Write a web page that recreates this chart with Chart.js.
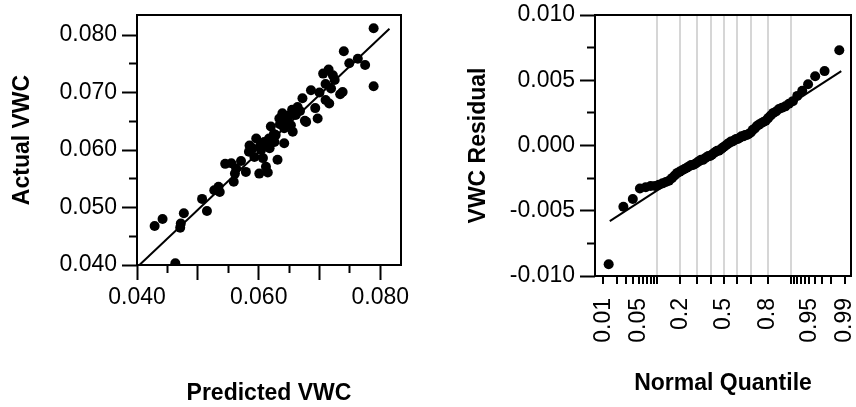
<!DOCTYPE html>
<html>
<head>
<meta charset="utf-8">
<script src="https://cdn.jsdelivr.net/npm/chart.js@4"></script>
<style>
  body { margin: 0; background: #fff; }
  #left { position: absolute; left: 0; top: 0; }
  #right { position: absolute; left: 430px; top: 0; }
</style>
</head>
<body>
<canvas id="left" width="430" height="407"></canvas>
<canvas id="right" width="426" height="407"></canvas>
<script>
// actual by predicted
const predicted = [0.0429, 0.0442, 0.0463, 0.0471, 0.0472, 0.0477, 0.0507, 0.0515, 0.0527, 0.0534,
  0.0536, 0.0555, 0.0559, 0.0561, 0.0563, 0.0571, 0.0579, 0.0584, 0.0585, 0.0590,
  0.0593, 0.0596, 0.0601, 0.0603, 0.0604, 0.0607, 0.0609, 0.0612, 0.0612, 0.0615,
  0.0617, 0.0618, 0.0620, 0.0625, 0.0626, 0.0628, 0.0631, 0.0634, 0.0635, 0.0639,
  0.0642, 0.0642, 0.0645, 0.0648, 0.0650, 0.0653, 0.0655, 0.0656, 0.0661, 0.0664,
  0.0668, 0.0672, 0.0676, 0.0678, 0.0686, 0.0693, 0.0697, 0.0700, 0.0706, 0.0710,
  0.0710, 0.0715, 0.0716, 0.0719, 0.0722, 0.0725, 0.0734, 0.0738, 0.0740, 0.0749,
  0.0763, 0.0775, 0.0789, 0.0789, 0.0545];
const actual = [0.0468, 0.0480, 0.0403, 0.0465, 0.0472, 0.0490, 0.0515, 0.0494, 0.0530, 0.0536,
  0.0527, 0.0577, 0.0545, 0.0559, 0.0568, 0.0581, 0.0562, 0.0597, 0.0608, 0.0603,
  0.0588, 0.0620, 0.0559, 0.0608, 0.0600, 0.0586, 0.0614, 0.0571, 0.0612, 0.0561,
  0.0620, 0.0603, 0.0641, 0.0628, 0.0614, 0.0626, 0.0583, 0.0655, 0.0645, 0.0664,
  0.0612, 0.0638, 0.0652, 0.0649, 0.0660, 0.0643, 0.0670, 0.0632, 0.0661, 0.0675,
  0.0668, 0.0690, 0.0651, 0.0649, 0.0704, 0.0673, 0.0655, 0.0700, 0.0733, 0.0687,
  0.0715, 0.0740, 0.0681, 0.0707, 0.0730, 0.0722, 0.0697, 0.0701, 0.0772, 0.0751,
  0.0759, 0.0748, 0.0812, 0.0711, 0.0576];
const fitPredicted = [0.0404, 0.0815];
const fitActual = [0.0400, 0.0811];
const vwcTicks = [0.040, 0.045, 0.050, 0.055, 0.060, 0.065, 0.070, 0.075, 0.080];

// residual normal quantile plot (sorted residuals)
const residuals = [-0.0091, -0.0047, -0.0041, -0.0033, -0.0032, -0.0031, -0.0031, -0.0030, -0.0029, -0.0028,
  -0.0027, -0.0025, -0.0023, -0.0021, -0.0020, -0.0019, -0.0018, -0.0017, -0.0016, -0.0015,
  -0.0015, -0.0014, -0.0013, -0.0012, -0.0011, -0.0011, -0.0010, -0.0009, -0.0008, -0.0008,
  -0.0007, -0.0006, -0.0005, -0.0004, -0.0004, -0.0003, -0.0002, -0.0001, 0.0000, 0.0001,
  0.0002, 0.0003, 0.0003, 0.0004, 0.0005, 0.0005, 0.0006, 0.0007, 0.0007, 0.0008,
  0.0008, 0.0009, 0.0010, 0.0012, 0.0013, 0.0015, 0.0016, 0.0017, 0.0018, 0.0019,
  0.0021, 0.0023, 0.0025, 0.0026, 0.0028, 0.0029, 0.0030, 0.0032, 0.0034, 0.0038,
  0.0042, 0.0047, 0.0053, 0.0057, 0.0073];
const refQuantile = [-2.20, 2.26];
const refResidual = [-0.0058, 0.0057];
const residTicks = [-0.010, -0.0075, -0.005, -0.0025, 0, 0.0025, 0.005, 0.0075, 0.010];
const probTicks = [0.01, 0.02, 0.03, 0.04, 0.05, 0.06, 0.07, 0.08, 0.09,
  0.1, 0.2, 0.3, 0.4, 0.5, 0.6, 0.7, 0.8, 0.9,
  0.91, 0.92, 0.93, 0.94, 0.95, 0.96, 0.97, 0.98, 0.99];
const probLabels = [0.01, 0.05, 0.2, 0.5, 0.8, 0.95, 0.99];
const probGrid = [0.1, 0.2, 0.3, 0.4, 0.5, 0.6, 0.7, 0.8, 0.9];

// inverse normal cdf (Acklam)
function qnorm(p) {
  const a = [-39.69683028665376, 220.9460984245205, -275.9285104469687, 138.3577518672690, -30.66479806614716, 2.506628277459239];
  const b = [-54.47609879822406, 161.5858368580409, -155.6989798598866, 66.80131188771972, -13.28068155288572];
  const c = [-0.007784894002430293, -0.3223964580411365, -2.400758277161838, -2.549671010229583, 4.374664141464968, 2.938163982698783];
  const d = [0.007784695709041462, 0.3224671290700398, 2.445134137142996, 3.754408661907416];
  const tail = q => (((((c[0]*q+c[1])*q+c[2])*q+c[3])*q+c[4])*q+c[5]) / ((((d[0]*q+d[1])*q+d[2])*q+d[3])*q+1);
  if (p < 0.02425) return tail(Math.sqrt(-2 * Math.log(p)));
  if (p > 1 - 0.02425) return -tail(Math.sqrt(-2 * Math.log(1 - p)));
  const q = p - 0.5, r = q * q;
  return (((((a[0]*r+a[1])*r+a[2])*r+a[3])*r+a[4])*r+a[5])*q / (((((b[0]*r+b[1])*r+b[2])*r+b[3])*r+b[4])*r+1);
}

const FONT = "'Liberation Sans', Arial, sans-serif";
const tickFont = { family: FONT, size: 23 };
const titleFont = { family: FONT, size: 23, weight: 'bold' };

const frame = {
  id: 'frame',
  afterDraw(chart) {
    const a = chart.chartArea, ctx = chart.ctx;
    ctx.save();
    ctx.strokeStyle = '#000';
    ctx.lineWidth = 2;
    ctx.strokeRect(a.left, a.top, a.right - a.left, a.bottom - a.top);
    ctx.restore();
  }
};

function fixSize(w, h) {
  return function(s) {
    if (w) s.width = w;
    if (h) s.height = h;
    s.paddingLeft = s.paddingRight = s.paddingTop = s.paddingBottom = 0;
  };
}

const isMult = (v, step) => Math.abs(v / step - Math.round(v / step)) < 1e-6;
// minor ticks: short (8 of 15 px), kept against the axis line
const minorX = [8, 50];
const minorY = [0, 7, 8, 50];

// left chart
new Chart(document.getElementById('left'), {
  type: 'scatter',
  data: {
    datasets: [{
      data: predicted.map((p, i) => ({ x: p, y: actual[i] })),
      backgroundColor: '#000',
      borderWidth: 0,
      pointRadius: 5,
      pointHoverRadius: 5
    }, {
      type: 'line',
      data: fitPredicted.map((p, i) => ({ x: p, y: fitActual[i] })),
      borderColor: '#000',
      borderWidth: 2,
      pointRadius: 0
    }]
  },
  options: {
    responsive: false,
    animation: false,
    layout: { padding: { top: 15, right: 29, bottom: 0, left: 0 } },
    plugins: { legend: { display: false }, tooltip: { enabled: false } },
    scales: {
      x: {
        type: 'linear', min: 0.040, max: 0.0834,
        afterBuildTicks: s => { s.ticks = vwcTicks.map(v => ({ value: v })); },
        afterFit: fixSize(0, 142),
        border: { display: false },
        grid: {
          drawOnChartArea: false, tickLength: 15, tickWidth: 2, tickColor: '#000',
          tickBorderDash: c => isMult(c.tick.value, 0.01) ? [] : minorX
        },
        ticks: {
          autoSkip: false, maxRotation: 0, padding: 4, color: '#000', font: tickFont,
          callback: v => isMult(v, 0.02) ? v.toFixed(3) : ''
        },
        title: { display: true, text: 'Predicted VWC', color: '#000', font: titleFont, padding: { top: 0, bottom: 0 } }
      },
      y: {
        type: 'linear', min: 0.040, max: 0.0835,
        afterBuildTicks: s => { s.ticks = vwcTicks.map(v => ({ value: v })); },
        afterFit: fixSize(137, 0),
        border: { display: false },
        grid: {
          drawOnChartArea: false, tickLength: 15, tickWidth: 2, tickColor: '#000',
          tickBorderDash: c => isMult(c.tick.value, 0.01) ? [] : minorY
        },
        ticks: {
          autoSkip: false, padding: 5, color: '#000', font: tickFont,
          callback: v => isMult(v, 0.01) ? v.toFixed(3) : ''
        },
        title: { display: true, text: 'Actual VWC', color: '#000', font: titleFont, padding: { top: 9, bottom: 0 } }
      }
    }
  },
  plugins: [frame]
});

// right chart
const nRes = residuals.length;
new Chart(document.getElementById('right'), {
  type: 'scatter',
  data: {
    datasets: [{
      data: residuals.map((r, i) => ({ x: qnorm((i + 1) / (nRes + 1)), y: r })),
      backgroundColor: '#000',
      borderWidth: 0,
      pointRadius: 5,
      pointHoverRadius: 5
    }, {
      type: 'line',
      data: refQuantile.map((q, i) => ({ x: q, y: refResidual[i] })),
      borderColor: '#000',
      borderWidth: 2,
      pointRadius: 0
    }]
  },
  options: {
    responsive: false,
    animation: false,
    layout: { padding: { top: 15, right: 3, bottom: 0, left: 0 } },
    plugins: { legend: { display: false }, tooltip: { enabled: false } },
    scales: {
      x: {
        type: 'linear', min: -2.485, max: 2.447,
        afterBuildTicks: s => { s.ticks = probTicks.map(p => ({ value: qnorm(p) })); },
        afterFit: fixSize(0, 131),
        border: { display: false },
        grid: {
          drawOnChartArea: true, lineWidth: 2, tickLength: 8, tickWidth: 2, tickColor: '#000',
          color: c => probGrid.includes(probTicks[c.index]) ? '#d6d6d6' : 'rgba(0,0,0,0)'
        },
        ticks: {
          autoSkip: false, minRotation: 90, maxRotation: 90, padding: 14, color: '#000', font: tickFont,
          callback: (v, i) => probLabels.includes(probTicks[i]) ? String(probTicks[i]) : ''
        },
        title: { display: true, text: 'Normal Quantile', color: '#000', font: titleFont, padding: { top: 0, bottom: 10 } }
      },
      y: {
        type: 'linear', min: -0.010, max: 0.010,
        afterBuildTicks: s => { s.ticks = residTicks.map(v => ({ value: v })); },
        afterFit: fixSize(165, 0),
        border: { display: false },
        grid: {
          drawOnChartArea: false, tickLength: 15, tickWidth: 2, tickColor: '#000',
          tickBorderDash: c => isMult(c.tick.value, 0.005) ? [] : minorY
        },
        ticks: {
          autoSkip: false, padding: 5, color: '#000', font: tickFont,
          callback: v => isMult(v, 0.005) ? v.toFixed(3) : ''
        },
        title: { display: true, text: 'VWC Residual', color: '#000', font: titleFont, padding: { top: 35, bottom: 0 } }
      }
    }
  },
  plugins: [frame]
});
</script>
</body>
</html>
